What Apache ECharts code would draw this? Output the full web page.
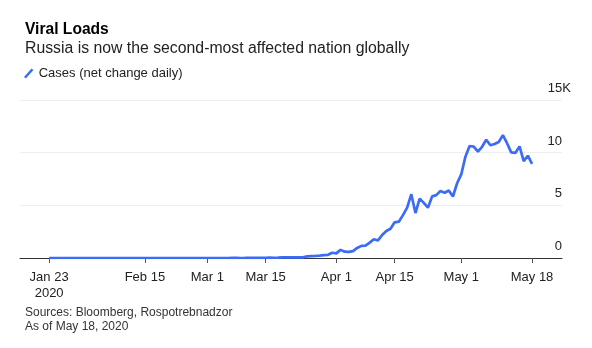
<!DOCTYPE html>
<html>
<head>
<meta charset="utf-8">
<script src="https://cdn.jsdelivr.net/npm/echarts@6/dist/echarts.min.js"></script>
<style>
  html, body { margin: 0; padding: 0; background: #fff; }
  #chart { width: 592px; height: 348px; }
</style>
</head>
<body>
<div id="chart"></div>
<script>
// daily new cases, Jan 23 .. May 18, 2020 (one value per day)
var startDay = [2020, 0, 23];
var cases = [
	0, 0, 0, 0, 0, 0, 0, 0, 2,                                  // Jan 23-31
	0, 0, 0, 0, 0, 0, 0, 0, 0, 0, 0, 0, 0, 0, 0, 0, 0, 0, 0, 0,  // Feb 1-20
	0, 0, 0, 0, 0, 0, 0, 0, 0,                                  // Feb 21-29
	0, 1, 0, 0, 0, 1, 6, 7, 0, 3, 8, 6, 11, 14, 4, 27,          // Mar 1-16
	24, 33, 52, 54, 53, 61, 71, 57, 163, 182, 196, 228, 270, 302, 501, // Mar 17-31
	440, 771, 601, 582, 658, 954, 1154, 1175, 1459, 1786,       // Apr 1-10
	1667, 2186, 2558, 2774, 3388, 3448, 4070, 4785, 6060, 4268, // Apr 11-20
	5642, 5236, 4774, 5849, 5966, 6361, 6198, 6411, 5841, 7099, // Apr 21-30
	7933, 9623, 10633, 10581, 10102, 10559, 11231, 10699, 10817, 11012, // May 1-10
	11656, 10899, 10028, 9974, 10598, 9200, 9709, 8926           // May 11-18
];
var tickDates = [[2020,0,23],[2020,1,15],[2020,2,1],[2020,2,15],[2020,3,1],[2020,3,15],[2020,4,1],[2020,4,18]];
var tickLabels = ['Jan 23\n2020', 'Feb 15', 'Mar 1', 'Mar 15', 'Apr 1', 'Apr 15', 'May 1', 'May 18'];

var DAY = 86400000;
// day number counted from startDay
function dayNo(d) {
	return Math.round((Date.UTC(d[0], d[1], d[2]) - Date.UTC(startDay[0], startDay[1], startDay[2])) / DAY);
}

var seriesData = [];
for (var i = 0; i < cases.length; i++) {
	seriesData.push([i, cases[i]]);
}
var tickValues = tickDates.map(dayNo);
var labelOf = {};
for (var i = 0; i < tickValues.length; i++) {
	labelOf[tickValues[i]] = tickLabels[i];
}

var chart = echarts.init(document.getElementById('chart'));
var blue = '#3c6cf5';
var font = '"Liberation Sans", Arial, sans-serif';

var option = {
	animation: false,
	textStyle: { fontFamily: font },
	title: [
		{
			text: 'Viral Loads', left: 20, top: 17,
			textStyle: { fontFamily: font, fontSize: 15.6, fontWeight: 'bold', color: '#000' }
		},
		{
			text: 'Russia is now the second-most affected nation globally', left: 20, top: 36,
			textStyle: { fontFamily: font, fontSize: 15.8, fontWeight: 'normal', color: '#222' }
		},
		{
			text: 'Sources: Bloomberg, Rospotrebnadzor\nAs of May 18, 2020', left: 20, top: 300,
			textStyle: { fontFamily: font, fontSize: 12, fontWeight: 'normal', color: '#333', lineHeight: 14.4 }
		}
	],
	legend: {
		left: 19, top: 62,
		itemWidth: 10, itemHeight: 10, itemGap: 10,
		icon: 'path://M0,9 L8,0 L10,1.6 L2,10.6 Z',
		textStyle: { fontFamily: font, fontSize: 13, color: '#222' },
		data: ['Cases (net change daily)']
	},
	grid: { left: 20, right: 30, top: 100, bottom: 90 },
	xAxis: {
		type: 'value',
		min: -7,
		max: 123.2,
		axisLine: { show: true, onZero: false, lineStyle: { color: '#333', width: 1 } },
		axisTick: { show: true, length: 5, lineStyle: { color: '#555' }, customValues: tickValues },
		splitLine: { show: false },
		axisLabel: {
			customValues: tickValues,
			margin: 11,
			fontSize: 13,
			color: '#222',
			lineHeight: 16,
			formatter: function (v) { return labelOf[v] || ''; }
		}
	},
	yAxis: {
		type: 'value',
		position: 'right',
		min: 0, max: 15000, interval: 5000,
		axisLine: { show: false },
		axisTick: { show: false },
		splitLine: { lineStyle: { color: '#efefef', width: 1 } },
		axisLabel: {
			inside: true,
			margin: -9,
			fontSize: 13,
			color: '#222',
			verticalAlign: 'bottom',
			padding: [0, 0, 5, 0],
			// numbers end at the gridline edge, the K hangs past it
			formatter: function (v) {
				if (v === 15000) return '15K';
				return String(v / 1000) + '{p| }';
			},
			rich: { p: { width: 9, fontSize: 13 } }
		}
	},
	series: [
		{
			name: 'Cases (net change daily)',
			type: 'line',
			data: seriesData,
			showSymbol: false,
			color: blue,
			lineStyle: { color: blue, width: 2.7 },
			z: 5
		}
	]
};
chart.setOption(option);
</script>
</body>
</html>
